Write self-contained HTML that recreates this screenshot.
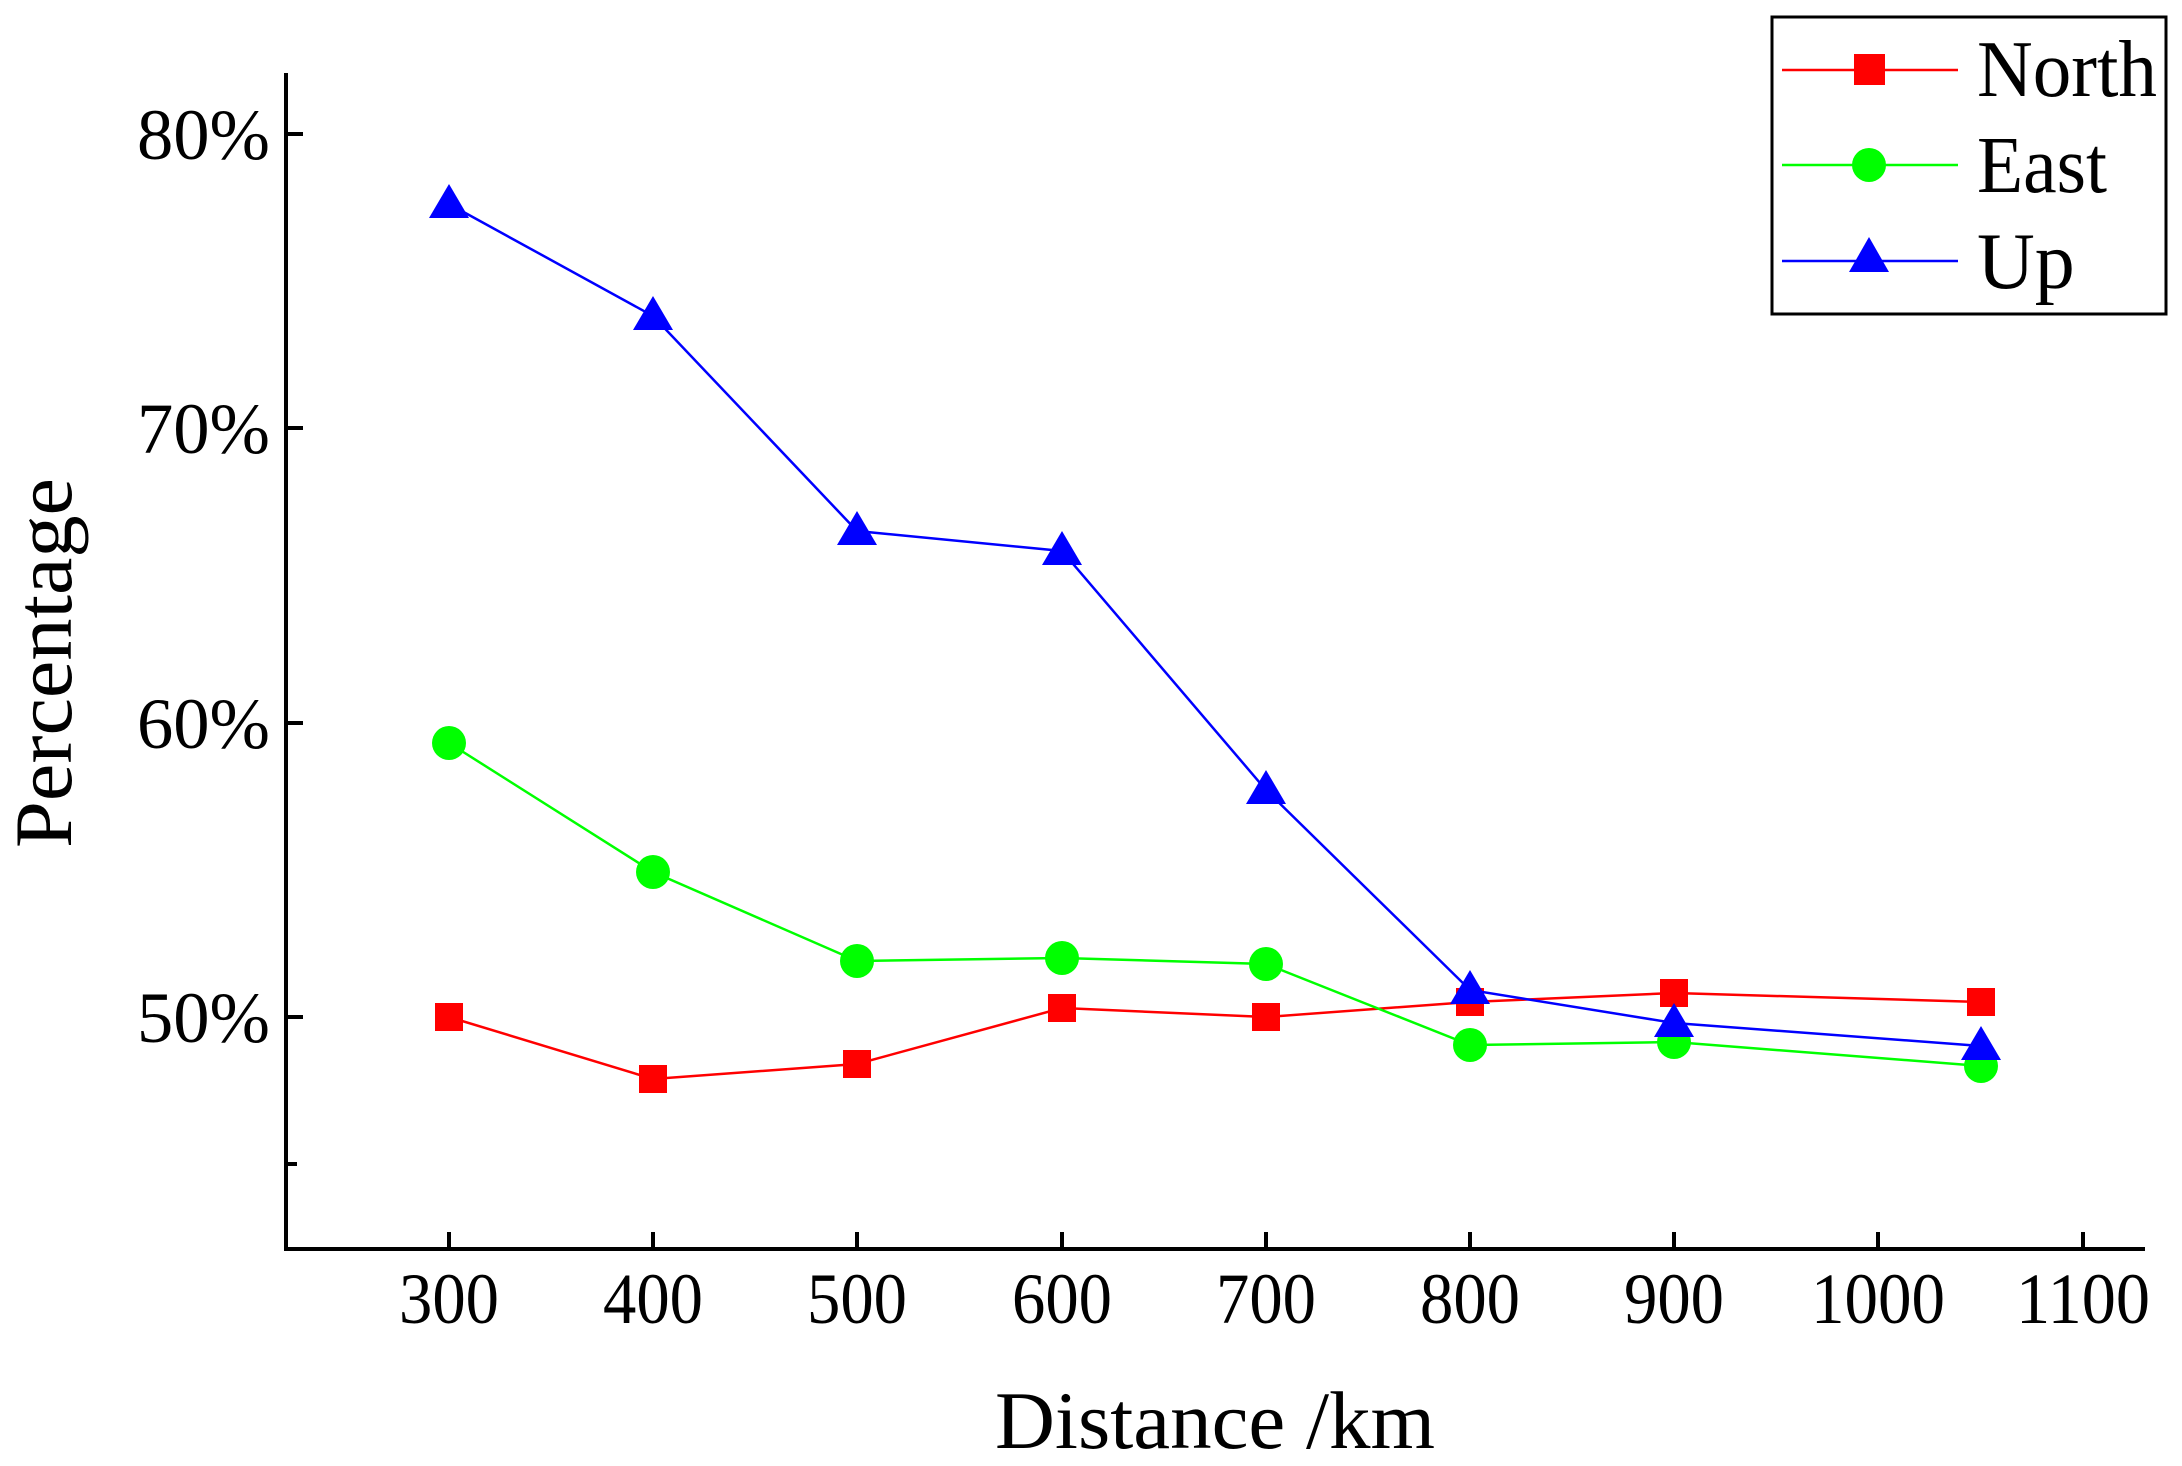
<!DOCTYPE html>
<html><head><meta charset="utf-8"><style>
html,body{margin:0;padding:0;background:#fff;}
svg{display:block;}
text{font-family:"Liberation Serif",serif;fill:#000;}
</style></head><body>
<svg width="2182" height="1466" viewBox="0 0 2182 1466" xmlns="http://www.w3.org/2000/svg">
<g stroke="#000" stroke-width="4" fill="none">
<line x1="286" y1="73" x2="286" y2="1251"/>
<line x1="284" y1="1249" x2="2145" y2="1249"/>
<line x1="286" y1="134" x2="303" y2="134"/>
<line x1="286" y1="428" x2="303" y2="428"/>
<line x1="286" y1="723" x2="303" y2="723"/>
<line x1="286" y1="1017" x2="303" y2="1017"/>
<line x1="286" y1="1164" x2="297" y2="1164"/>
<line x1="449" y1="1249" x2="449" y2="1232"/>
<line x1="653" y1="1249" x2="653" y2="1232"/>
<line x1="857" y1="1249" x2="857" y2="1232"/>
<line x1="1062" y1="1249" x2="1062" y2="1232"/>
<line x1="1266" y1="1249" x2="1266" y2="1232"/>
<line x1="1470" y1="1249" x2="1470" y2="1232"/>
<line x1="1674" y1="1249" x2="1674" y2="1232"/>
<line x1="1878" y1="1249" x2="1878" y2="1232"/>
<line x1="2083" y1="1249" x2="2083" y2="1232"/>
</g>
<g font-size="72" text-anchor="end">
<text x="270" y="159" textLength="133" lengthAdjust="spacingAndGlyphs">80%</text>
<text x="270" y="453" textLength="133" lengthAdjust="spacingAndGlyphs">70%</text>
<text x="270" y="748" textLength="133" lengthAdjust="spacingAndGlyphs">60%</text>
<text x="270" y="1042" textLength="133" lengthAdjust="spacingAndGlyphs">50%</text>
</g>
<g font-size="72" text-anchor="middle">
<text x="449" y="1323" textLength="100" lengthAdjust="spacingAndGlyphs">300</text>
<text x="653" y="1323" textLength="100" lengthAdjust="spacingAndGlyphs">400</text>
<text x="857" y="1323" textLength="100" lengthAdjust="spacingAndGlyphs">500</text>
<text x="1062" y="1323" textLength="100" lengthAdjust="spacingAndGlyphs">600</text>
<text x="1266" y="1323" textLength="100" lengthAdjust="spacingAndGlyphs">700</text>
<text x="1470" y="1323" textLength="100" lengthAdjust="spacingAndGlyphs">800</text>
<text x="1674" y="1323" textLength="100" lengthAdjust="spacingAndGlyphs">900</text>
<text x="1878" y="1323" textLength="134" lengthAdjust="spacingAndGlyphs">1000</text>
<text x="2083" y="1323" textLength="134" lengthAdjust="spacingAndGlyphs">1100</text>
</g>
<text x="1215" y="1448" font-size="82" text-anchor="middle" textLength="440" lengthAdjust="spacingAndGlyphs">Distance /km</text>
<text transform="translate(71,663) rotate(-90)" font-size="82" text-anchor="middle" textLength="370" lengthAdjust="spacingAndGlyphs">Percentage</text>
<!-- North -->
<polyline fill="none" stroke="#f00" stroke-width="2.5" points="449,1017 653,1079 857,1064 1062,1008 1266,1017 1470,1002 1674,993 1981,1002"/>
<g fill="#f00">
<rect x="435" y="1003" width="28" height="28"/><rect x="639" y="1065" width="28" height="28"/><rect x="843" y="1050" width="28" height="28"/><rect x="1048" y="994" width="28" height="28"/><rect x="1252" y="1003" width="28" height="28"/><rect x="1456" y="988" width="28" height="28"/><rect x="1660" y="979" width="28" height="28"/><rect x="1967" y="988" width="28" height="28"/>
</g>
<!-- East -->
<polyline fill="none" stroke="#0f0" stroke-width="2.5" points="449,743 653,872 857,961 1062,958 1266,964 1470,1045 1674,1042 1981,1066"/>
<g fill="#0f0">
<circle cx="449" cy="743" r="17"/><circle cx="653" cy="872" r="17"/><circle cx="857" cy="961" r="17"/><circle cx="1062" cy="958" r="17"/><circle cx="1266" cy="964" r="17"/><circle cx="1470" cy="1045" r="17"/><circle cx="1674" cy="1042" r="17"/><circle cx="1981" cy="1066" r="17"/>
</g>
<!-- Up -->
<polyline fill="none" stroke="#00f" stroke-width="2.5" points="449,204 653,316 857,531 1062,551 1266,790 1470,990 1674,1023 1981,1046"/>
<g fill="#00f">
<path d="M449,184 l-20,34 h40z"/><path d="M653,296 l-20,34 h40z"/><path d="M857,511 l-20,34 h40z"/><path d="M1062,531 l-20,34 h40z"/><path d="M1266,770 l-20,34 h40z"/><path d="M1470,970 l-20,34 h40z"/><path d="M1674,1003 l-20,34 h40z"/><path d="M1981,1026 l-20,34 h40z"/>
</g>
<!-- Legend -->
<rect x="1772" y="17" width="394" height="297" fill="#fff" stroke="#000" stroke-width="3"/>
<line x1="1782" y1="70" x2="1958" y2="70" stroke="#f00" stroke-width="2.5"/>
<rect x="1854" y="54" width="31" height="31" fill="#f00"/>
<line x1="1782" y1="165" x2="1958" y2="165" stroke="#0f0" stroke-width="2.5"/>
<circle cx="1869" cy="165" r="17" fill="#0f0"/>
<line x1="1782" y1="261" x2="1958" y2="261" stroke="#00f" stroke-width="2.5"/>
<path d="M1869,237 l-20,35 h40z" fill="#00f"/>
<g font-size="80">
<text x="1977" y="96" textLength="180" lengthAdjust="spacingAndGlyphs">North</text>
<text x="1977" y="192" textLength="130" lengthAdjust="spacingAndGlyphs">East</text>
<text x="1977" y="288">Up</text>
</g>
</svg>
</body></html>
